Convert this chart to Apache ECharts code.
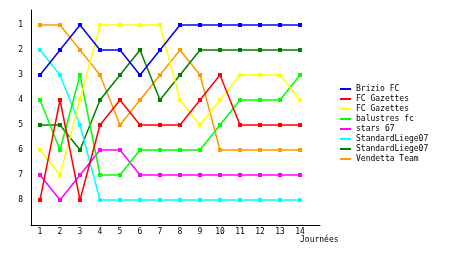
<!DOCTYPE html>
<html><head><meta charset="utf-8">
<script src="https://cdn.jsdelivr.net/npm/echarts@6/dist/echarts.min.js"></script>
<style>html,body{margin:0;padding:0;background:#fff}#c{width:460px;height:255px}</style>
</head><body><div id="c"></div>
<script>
const rounds = [1,2,3,4,5,6,7,8,9,10,11,12,13,14];
const rankTicks = [1,2,3,4,5,6,7,8];
const teamNames = ["Brizio FC","FC Gazettes","FC Gazettes","balustres fc","stars 67","StandardLiege07","StandardLiege07","Vendetta Team"];
const colors = ["#0000ff","#ff0000","#ffff00","#00ff00","#ff00ff","#00ffff","#007f00","#ff9900"];
const brizio      = [3,2,1,2,2,3,2,1,1,1,1,1,1,1];
const gazettesA   = [8,4,8,5,4,5,5,5,4,3,5,5,5,5];
const gazettesB   = [6,7,4,1,1,1,1,4,5,4,3,3,3,4];
const balustres   = [4,6,3,7,7,6,6,6,6,5,4,4,4,3];
const stars67     = [7,8,7,6,6,7,7,7,7,7,7,7,7,7];
const liegeA      = [2,3,5,8,8,8,8,8,8,8,8,8,8,8];
const liegeB      = [5,5,6,4,3,2,4,3,2,2,2,2,2,2];
const vendetta    = [1,1,2,3,5,4,3,2,3,6,6,6,6,6];
const allSeries = [brizio,gazettesA,gazettesB,balustres,stars67,liegeA,liegeB,vendetta];
const xTitle = "Journées";

const font = "DejaVu Sans Mono";
const chart = echarts.init(document.getElementById('c'), null, {renderer:'canvas'});
const ids = teamNames.map((n,i)=> i + '|' + n);
chart.setOption({
  animation:false,
  backgroundColor:'#fff',
  grid:{left:31, right:140, top:10, bottom:30, containLabel:false},
  xAxis:{type:'value', min:0.55, max:15,
    axisLine:{show:true,lineStyle:{color:'#000',width:1}},
    axisTick:{show:false},
    splitLine:{show:false},
    axisLabel:{customValues:rounds, color:'#000', fontFamily:font, fontSize:8, margin:3}
  },
  yAxis:{type:'value', inverse:true, min:0.4, max:9,
    axisLine:{show:true,lineStyle:{color:'#000',width:1}},
    axisTick:{show:false},
    splitLine:{show:false},
    axisLabel:{customValues:rankTicks, color:'#000', fontFamily:font, fontSize:8, margin:8}
  },
  legend:{orient:'vertical', left:340, top:80, padding:0, itemWidth:11, itemHeight:2, itemGap:-8,
    icon:'rect',
    data: ids,
    formatter: n => n.split('|')[1],
    textStyle:{color:'#000', fontFamily:font, fontSize:8, lineHeight:10, padding:[8,0,0,0]},
    selectedMode:false
  },
  graphic:[{type:'text', left:300, top:236, style:{text:xTitle, fill:'#000', font:'8px "DejaVu Sans Mono"'}}],
  series: allSeries.map((vals,i)=>({
    name: ids[i], type:'line',
    data: vals.map((v,j)=>[rounds[j], v]),
    color: colors[i],
    lineStyle:{width:1.5, color:colors[i]},
    symbol:'rect', symbolSize:4, showSymbol:true,
    itemStyle:{color:colors[i], borderWidth:0},
    z: 10-i
  }))
});
</script></body></html>
